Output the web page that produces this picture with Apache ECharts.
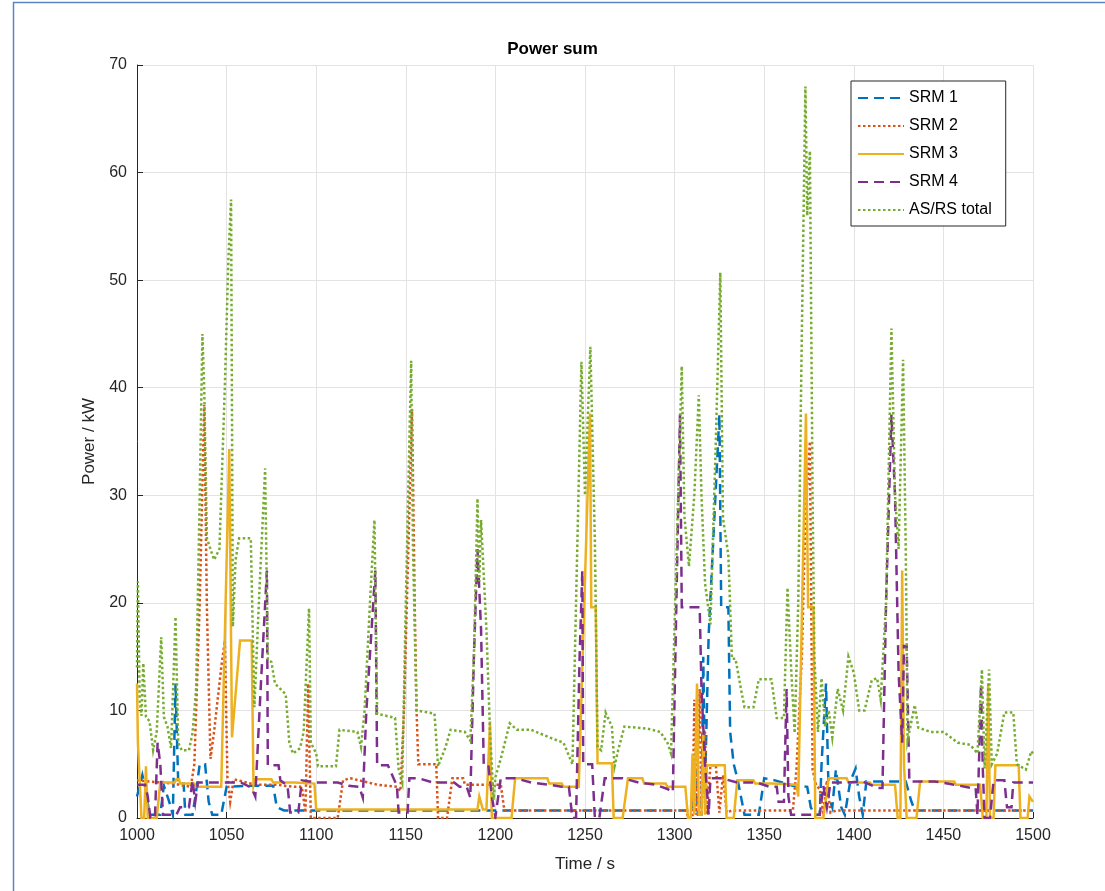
<!DOCTYPE html>
<html>
<head>
<meta charset="utf-8">
<script src="https://cdn.jsdelivr.net/npm/echarts@6/dist/echarts.min.js"></script>
<style>
html,body{margin:0;padding:0;background:#fff;}
#chart{width:1105px;height:891px;}
</style>
</head>
<body>
<div id="chart"></div>
<script>
// ---- Data (time in s, power in kW) ----
const seriesNames = ['SRM 1', 'SRM 2', 'SRM 3', 'SRM 4', 'AS/RS total'];
const xTicks = [1000, 1500, 50];
const yTicks = [0, 70, 10];

const srm1 = [
  [1000,2],[1003,4],[1005,2.5],[1007,0.3],[1013,0.3],[1015,3],[1018,1.5],[1020,0.3],[1021.5,12.5],[1023,3.2],
  [1026,3.2],[1027,0.3],[1031,0.3],[1033,2.5],[1035,5],[1038,5],[1040,1.5],[1042,0.3],[1047,0.3],[1050,2.9],
  [1063,3],[1076,3],[1078,1],[1082,0.7],[1310,0.7],[1312,4.5],[1313,0.3],[1315,0.3],[1316,15],[1317,3],
  [1319,17],[1325,37.5],[1326,19.6],[1330,19.6],[1331,8],[1333,5],[1335,3.7],[1337,2],[1339,0.3],[1347,0.3],
  [1350,3.7],[1356,3.5],[1366,3],[1374,2.9],[1376,1],[1378,0.3],[1381,0.3],[1382,5],[1384.5,12.5],[1386,2],
  [1388,1],[1390,4.5],[1393,1],[1395,0.3],[1398,3.4],[1401,4.6],[1403,2],[1405,0.3],[1407,3.4],[1415,3.4],
  [1422,3.4],[1429,3.4],[1432,1.6],[1434,0.7],[1500,0.7]
];

const srm2 = [
  [1000,3.5],[1020,3.2],[1030,2.9],[1032,5],[1035,20],[1037.5,38.4],[1039,19.6],[1041,5.5],[1043,8],[1047,14],
  [1049,16.5],[1050.5,3.5],[1052,1.5],[1054,3.6],[1066,3.1],[1077,3.1],[1088,2.9],[1092,2.9],[1094,0.5],[1095.5,12.5],
  [1097,0],[1112,0],[1115,3.5],[1119,3.7],[1134,3.1],[1145,2.9],[1147,2.5],[1149,10],[1153.5,38],[1155,19.6],
  [1156,10],[1157,5],[1167,5],[1168,0],[1173,0],[1176,3.7],[1182,3.7],[1183,3.1],[1203,3.1],[1205,0.7],
  [1306,0.7],[1308,0],[1310,0],[1311,11],[1312,0.3],[1314,12],[1315,0.3],[1317,8],[1318,0.3],[1320,4.9],
  [1323,4.9],[1325,0.5],[1327,4],[1329,0.5],[1332,0.7],[1366,0.7],[1368,4.5],[1371,15],[1373,28],[1375.5,35],
  [1377,4.5],[1379,3],[1381,2.7],[1383,0.5],[1385,3.5],[1387,0.5],[1390,0.7],[1500,0.7]
];

const srm3 = [
  [1000,12.5],[1000.5,7],[1001.5,7],[1002.5,0],[1004,0],[1005,4.8],[1006,0],[1011,0],[1013,3.3],[1021,3.3],
  [1022,3.6],[1023.5,3.6],[1024,3.2],[1032,3.2],[1033,2.9],[1047,2.9],[1051.5,34.3],[1053,7.5],[1057.5,16.5],[1064,16.5],
  [1065,3],[1066,3.6],[1075,3.6],[1076,3.3],[1088,3.3],[1089,3.2],[1099,3.2],[1100,0.8],[1190,0.8],[1191,2],
  [1193,0.8],[1195,0.8],[1197,9],[1198,0],[1209,0],[1211,3.7],[1229,3.7],[1230,3.2],[1237,3.2],[1238,2.9],
  [1246.5,2.9],[1252.8,37.6],[1253.5,19.6],[1256,19.6],[1257,5.1],[1265,5.1],[1266,0],[1271,0],[1274,3.7],[1282,3.7],
  [1283,3.2],[1295,3.2],[1296,2.9],[1306,2.9],[1307.5,0],[1309,0],[1310,6],[1311,0.3],[1312.5,12.5],[1313.5,0.3],
  [1315,0.3],[1316,8],[1317,0.3],[1318,4.9],[1328,4.9],[1329,0],[1333,0],[1335,3.5],[1344,3.5],[1345,3.2],
  [1355,3.2],[1356,3.1],[1368,3.1],[1369,2],[1373.3,37.6],[1374.5,19.6],[1377.5,19.6],[1378.5,0],[1383,0],[1386,3.7],
  [1396,3.7],[1397,3.3],[1409,3.3],[1410,3.1],[1423,3.1],[1424.5,0],[1426,0],[1427,23],[1428,5],[1429,5],
  [1429.5,0],[1435,0],[1437,3.4],[1456,3.4],[1457,3.1],[1470.5,3.1],[1472,0],[1474,0],[1475,12.5],[1476,0],
  [1478,0],[1479,4.9],[1492,4.9],[1493,0],[1497,0],[1498,2],[1500,1.5]
];

const srm4 = [
  [1000,3.1],[1004.5,3.1],[1006,2],[1007.5,0],[1010,0],[1011.5,7],[1013,5],[1014.5,0.3],[1022,0.3],[1024,1],
  [1029,1],[1031,3.5],[1032.5,1.5],[1034,3.3],[1058,3.3],[1064,2.8],[1066,2],[1069,12],[1072.5,23],[1073,4.9],
  [1079,4.9],[1080,3.5],[1084,3],[1085.5,0.5],[1090,0.5],[1092,3.5],[1100,3.3],[1112,3.3],[1118,3],[1124,2.9],
  [1126,1.9],[1128,10],[1133,23],[1134,4.9],[1140,4.9],[1145,3],[1146,0.5],[1151,0.5],[1152,3.7],[1157,3.7],
  [1165,3.3],[1177,3.3],[1180,2.9],[1184,2.9],[1186,1.9],[1188,15],[1190,25],[1192,17.5],[1193.5,5],[1196,5],
  [1198,2],[1200,0.1],[1203,3.7],[1211,3.7],[1220,3.3],[1230,3.1],[1237,2.9],[1241,2.9],[1243,0],[1245,0],
  [1247,15],[1248.5,23],[1249,5],[1254,5],[1255.5,0],[1258,0],[1261,3.7],[1271,3.7],[1280,3.3],[1289,3.1],
  [1296,2.7],[1299,2.4],[1301,20],[1303,37.5],[1304,19.6],[1314,19.6],[1315,12],[1317,5],[1319,0.3],[1320,3.7],
  [1326,3.7],[1335,3.3],[1346,3.3],[1353,2.9],[1357,2.9],[1358,1.5],[1361,1.5],[1362.5,12],[1363.5,2],[1365,0.3],
  [1381,0.3],[1383,3],[1385,1],[1387,3.3],[1396,3.3],[1405,3.4],[1413,2.8],[1416,2.8],[1418,20],[1421,37.5],
  [1423,30],[1425,13.5],[1427,7],[1428,16],[1429.5,16],[1431,3.4],[1445,3.4],[1456,3.1],[1465,2.8],[1468,2.8],
  [1469,0.3],[1470,6],[1471,12.4],[1472,4.5],[1473,0],[1476,0],[1478,3.5],[1484,3.5],[1485.5,1],[1488,1],
  [1489,3.3],[1500,3.3]
];

const total = [
  [1000,14],[1000.5,22],[1001.5,11],[1002.5,9.5],[1003.5,14.4],[1005,9.4],[1007,9],[1009,6.3],[1011,8],[1013.5,16.8],
  [1015,9.4],[1017,8.5],[1019,6.5],[1021.5,18.7],[1023,7],[1025,6.3],[1029,6.3],[1031,7.9],[1033,12],[1035,30],
  [1036.5,45],[1037.5,40],[1039,26],[1043,24],[1046,25],[1049,40],[1051,52],[1052.5,57.5],[1053.5,17.8],[1055,24],
  [1057,26],[1063.5,26],[1065.5,10.3],[1068,20],[1071.5,32.5],[1073,14.7],[1075,14.5],[1077,12.5],[1080,12],[1083,11.5],
  [1085,7],[1087,6],[1091,6.5],[1093,8],[1096,19.5],[1097,7],[1100,6],[1101,4.8],[1111,4.8],[1113,8.2],
  [1123,8],[1125,6.6],[1127,10],[1130,20],[1132.5,27.7],[1134,9.7],[1144,9.3],[1146,4.5],[1148,3.3],[1150,20],
  [1153,42.5],[1154,25],[1156,10],[1166,9.7],[1168,4.8],[1172,6.5],[1175,8.2],[1183,8],[1186,7.2],[1188,15],
  [1190,29.7],[1191,22],[1192,27.7],[1195,17.5],[1197,8],[1199,1.7],[1200,3.8],[1203,5.5],[1208,8.8],[1212,8.2],
  [1220,8.2],[1230,7.5],[1238,7],[1243,5],[1248,42.4],[1250,30],[1253,43.8],[1255.5,25.8],[1257,6.6],[1259,6.3],
  [1261.5,9.8],[1265,8.5],[1266.5,4.8],[1268.5,6.3],[1272,8.5],[1285,8.3],[1292,8],[1296,7],[1298,6],[1302,30],
  [1304,42],[1305.5,28],[1308,23.4],[1311,30],[1313.5,39.3],[1315,30],[1317,21.8],[1320,18],[1323,35],[1325.5,50.7],
  [1327,27.9],[1330,24.4],[1332,14.8],[1334,14.8],[1337,12],[1339,10.3],[1344,10.3],[1347,12.9],[1354,12.9],[1357,9.3],
  [1361,9.3],[1363,21.4],[1365,14],[1367,7.9],[1369,20],[1371,45],[1373,68],[1374,56],[1375.5,62],[1377,30],
  [1378,15],[1380,8],[1382,13],[1384,8.5],[1386,10],[1388,7.5],[1391,12],[1394,10],[1397,15],[1400,13.5],
  [1403,10],[1406,10],[1410,12.8],[1413,13],[1415,11],[1418,20],[1421,45.5],[1423,30],[1425,25],[1427.5,42.6],
  [1429,24.8],[1430,7.2],[1434,10.5],[1436,8.4],[1443,8],[1450,8],[1458,7],[1465,6.8],[1469,6],[1471.5,13.8],
  [1473,4.6],[1475.5,13.8],[1477,5],[1480,6],[1484,9.8],[1489,9.8],[1491,5],[1496,4.5],[1499,6.2],[1500,6]
];

// ---- Styling ----
const colors = ['#0072BD', '#D95319', '#EDB120', '#7E2F8E', '#77AC30'];
const dashed = [10, 6];
const dotted = [2.5, 2.5];
const styles = [dashed, dotted, 'solid', dashed, dotted];
const dataSets = [srm1, srm2, srm3, srm4, total];
const axisColor = '#262626';
const fontFam = '"Liberation Sans", Arial, Helvetica, sans-serif';

const chart = echarts.init(document.getElementById('chart'), null, {renderer: 'canvas'});
chart.setOption({
  animation: false,
  backgroundColor: '#ffffff',
  color: colors,
  textStyle: {fontFamily: fontFam},
  graphic: [{
    type: 'rect', silent: true, z: -10,
    shape: {x: 13.5, y: 2.5, width: 1200, height: 1000},
    style: {fill: 'none', stroke: '#5f82c2', lineWidth: 1.5}
  }],
  title: {
    text: 'Power sum', left: 'center', top: 36,
    textStyle: {fontFamily: fontFam, fontSize: 17, fontWeight: 'bold', color: '#000'}
  },
  grid: {left: 137, right: 72, top: 65, bottom: 73, containLabel: false},
  legend: {
    orient: 'vertical', left: 851, top: 81,
    padding: [9, 14, 8, 6], itemGap: 12, itemWidth: 46, itemHeight: 14,
    borderColor: '#262626', borderWidth: 1, backgroundColor: '#fff',
    itemStyle: {opacity: 0},
    textStyle: {fontFamily: fontFam, fontSize: 16, color: '#000'},
    data: seriesNames
  },
  xAxis: {
    type: 'value', min: xTicks[0], max: xTicks[1], interval: xTicks[2],
    name: 'Time / s', nameLocation: 'middle', nameGap: 38,
    nameTextStyle: {fontFamily: fontFam, fontSize: 17, color: axisColor},
    axisLine: {show: true, onZero: false, lineStyle: {color: axisColor, width: 1}},
    axisTick: {show: true, inside: true, length: 6, lineStyle: {color: axisColor}},
    axisLabel: {fontFamily: fontFam, fontSize: 16, color: axisColor, margin: 10, formatter: v => String(v)},
    splitLine: {show: true, lineStyle: {color: '#e3e3e3', width: 1}}
  },
  yAxis: {
    type: 'value', min: yTicks[0], max: yTicks[1], interval: yTicks[2],
    name: 'Power / kW', nameLocation: 'middle', nameGap: 35, nameRotate: 90,
    nameTextStyle: {fontFamily: fontFam, fontSize: 17, color: axisColor},
    axisLine: {show: true, lineStyle: {color: axisColor, width: 1}},
    axisTick: {show: true, inside: true, length: 6, lineStyle: {color: axisColor}},
    axisLabel: {fontFamily: fontFam, fontSize: 16, color: axisColor, margin: 10, formatter: v => String(v)},
    splitLine: {show: true, lineStyle: {color: '#e3e3e3', width: 1}}
  },
  series: seriesNames.map((n, i) => ({
    name: n, type: 'line', data: dataSets[i],
    symbol: 'none', showSymbol: false, smooth: false,
    clip: true,
    lineStyle: {color: colors[i], width: 2.5, type: styles[i], cap: 'butt', join: 'miter'},
    emphasis: {disabled: true}
  }))
});
</script>
</body>
</html>
